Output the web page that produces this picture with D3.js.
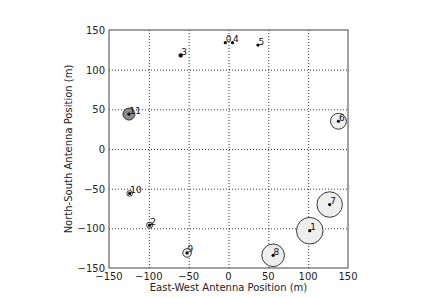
<!DOCTYPE html>
<style>
  body { margin: 0; background: #fff; }
  text { font-family: "DejaVu Sans", sans-serif; }
  .grid line { stroke: #000; stroke-dasharray: 1,2; stroke-width: 0.8; }
  .grid .domain { display: none; }
</style>
<svg width="444" height="298"></svg>
<script src="https://d3js.org/d3.v7.min.js"></script>
<script>
  // antenna ids and positions (m)
  var ids = [0, 1, 2, 3, 4, 5, 6, 7, 8, 9, 10, 11];
  var east = [-4, 102, -99, -60, 5, 37, 138, 127, 56, -52, -124, -125];
  var north = [134, -103, -96, 118, 134, 131, 35, -70, -134, -131, -56, 44];
  // circle radius (m)
  var size = [0, 16.7, 3.8, 2.4, 0, 0, 10, 16, 14.2, 5.4, 3.6, 7.5];
  var flagged = [0, 0, 0, 0, 0, 0, 0, 0, 0, 0, 0, 1];
  var ticks = [-150, -100, -50, 0, 50, 100, 150];

  var svg = d3.select("svg"),
    margin = { top: 30, right: 96, bottom: 31, left: 109 },
    width = 239,
    height = 238;

  var g = svg.append("g")
    .attr("transform", "translate(" + margin.left + "," + margin.top + ")");

  var x = d3.scaleLinear().domain([-150, 150]).range([0, width]);
  var y = d3.scaleLinear().domain([-150, 150]).range([height, 0]);
  var fmt = function(d) { return String(d).replace("-", "\u2212"); };

  // grid
  g.append("g").attr("class", "grid")
    .attr("transform", "translate(0," + height + ")")
    .call(d3.axisBottom(x).tickValues(ticks.slice(1, -1)).tickSize(-height).tickFormat(""));
  g.append("g").attr("class", "grid")
    .call(d3.axisLeft(y).tickValues(ticks.slice(1, -1)).tickSize(-width).tickFormat(""));

  // frame
  g.append("rect")
    .attr("width", width).attr("height", height)
    .attr("fill", "none").attr("stroke", "#444").attr("stroke-width", 1);

  // tick labels
  g.selectAll(".xt").data(ticks).enter().append("text")
    .attr("x", function(d) { return x(d); })
    .attr("y", height + 12)
    .attr("text-anchor", "middle")
    .attr("font-size", 10).attr("fill", "#222")
    .text(fmt);
  g.selectAll(".yt").data(ticks).enter().append("text")
    .attr("x", -4)
    .attr("y", function(d) { return y(d) + 4; })
    .attr("text-anchor", "end")
    .attr("font-size", 10).attr("fill", "#222")
    .text(fmt);

  // axis labels
  g.append("text")
    .attr("x", width / 2).attr("y", height + 23)
    .attr("text-anchor", "middle").attr("font-size", 10).attr("fill", "#222")
    .text("East-West Antenna Position (m)");
  g.append("text")
    .attr("transform", "translate(-37," + height / 2 + ") rotate(-90)")
    .attr("text-anchor", "middle").attr("font-size", 10).attr("fill", "#222")
    .text("North-South Antenna Position (m)");

  var data = ids.map(function(id, i) {
    return { id: id, e: east[i], n: north[i], r: size[i], flag: flagged[i] };
  });

  // circles
  g.selectAll(".ring").data(data.filter(function(d) { return d.r > 0; }))
    .enter().append("circle")
    .attr("cx", function(d) { return x(d.e); })
    .attr("cy", function(d) { return y(d.n); })
    .attr("r", function(d) { return x(d.r) - x(0); })
    .attr("fill", function(d) { return d.flag ? "#8a8a8a" : "#eeeeee"; })
    .attr("stroke", "#222").attr("stroke-width", 0.9);

  // dots
  g.selectAll(".dot").data(data).enter().append("circle")
    .attr("cx", function(d) { return x(d.e); })
    .attr("cy", function(d) { return y(d.n); })
    .attr("r", 1.6).attr("fill", "#000");

  // labels
  g.selectAll(".lab").data(data).enter().append("text")
    .attr("x", function(d) { return x(d.e) + 0.5; })
    .attr("y", function(d) { return y(d.n) - 0.5; })
    .attr("font-size", 9).attr("fill", "#111")
    .text(function(d) { return d.id; });
</script>
